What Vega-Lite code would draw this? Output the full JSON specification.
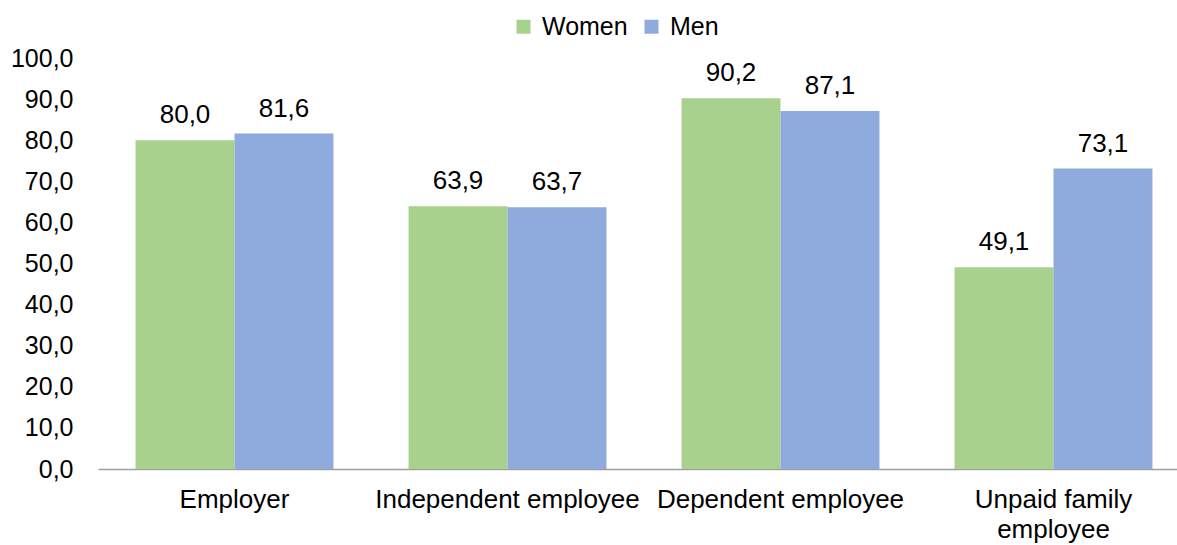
{
  "$schema": "https://vega.github.io/schema/vega-lite/v6.json",
  "width": 1092,
  "height": 411,
  "autosize": {"type": "none"},
  "padding": {"left": 98, "top": 58, "right": 0, "bottom": 76},
  "background": "white",
  "config": {
    "view": {"stroke": null},
    "font": "Liberation Sans",
    "locale": {
      "number": {"decimal": ",", "thousands": ".", "grouping": [3], "currency": ["", " €"]}
    }
  },
  "data": {
    "values": [
      {"category": "Employer", "sex": "Women", "value": 80.0},
      {"category": "Employer", "sex": "Men", "value": 81.6},
      {"category": "Independent employee", "sex": "Women", "value": 63.9},
      {"category": "Independent employee", "sex": "Men", "value": 63.7},
      {"category": "Dependent employee", "sex": "Women", "value": 90.2},
      {"category": "Dependent employee", "sex": "Men", "value": 87.1},
      {"category": "Unpaid family employee", "sex": "Women", "value": 49.1},
      {"category": "Unpaid family employee", "sex": "Men", "value": 73.1}
    ]
  },
  "encoding": {
    "x": {
      "field": "category",
      "type": "nominal",
      "sort": ["Employer", "Independent employee", "Dependent employee", "Unpaid family employee"],
      "scale": {"paddingInner": 0.275, "paddingOuter": 0.1375},
      "axis": {
        "title": null,
        "labelAngle": 0,
        "labelFontSize": 26,
        "labelColor": "#000000",
        "labelPadding": 17,
        "labelLimit": 0,
        "labelOverlap": false,
        "labelLineHeight": 30,
        "labelExpr": "datum.label == 'Unpaid family employee' ? ['Unpaid family', 'employee'] : datum.label",
        "ticks": false,
        "domainColor": "#a0a0a0",
        "domainWidth": 1.3
      }
    },
    "xOffset": {
      "field": "sex",
      "type": "nominal",
      "sort": ["Women", "Men"],
      "scale": {"paddingInner": 0, "paddingOuter": 0}
    },
    "y": {
      "field": "value",
      "type": "quantitative",
      "scale": {"domain": [0, 100], "nice": false},
      "axis": {
        "title": null,
        "values": [0, 10, 20, 30, 40, 50, 60, 70, 80, 90, 100],
        "format": ".1f",
        "labelFontSize": 25,
        "labelColor": "#000000",
        "labelPadding": 25,
        "ticks": false,
        "domain": false,
        "grid": false
      }
    }
  },
  "layer": [
    {
      "mark": {"type": "bar"},
      "encoding": {
        "color": {
          "field": "sex",
          "type": "nominal",
          "sort": ["Women", "Men"],
          "scale": {"domain": ["Women", "Men"], "range": ["#a9d18e", "#8faadc"]},
          "legend": {
            "title": null,
            "orient": "none",
            "direction": "horizontal",
            "legendX": 413,
            "legendY": -44,
            "symbolType": "square",
            "symbolSize": 196,
            "symbolStrokeWidth": 0,
            "labelFontSize": 25,
            "labelColor": "#000000",
            "labelOffset": 6,
            "columnPadding": 11
          }
        }
      }
    },
    {
      "mark": {"type": "text", "baseline": "alphabetic", "dy": -17, "fontSize": 26, "color": "#000000"},
      "encoding": {
        "text": {"field": "value", "type": "quantitative", "format": ".1f"}
      }
    }
  ]
}
